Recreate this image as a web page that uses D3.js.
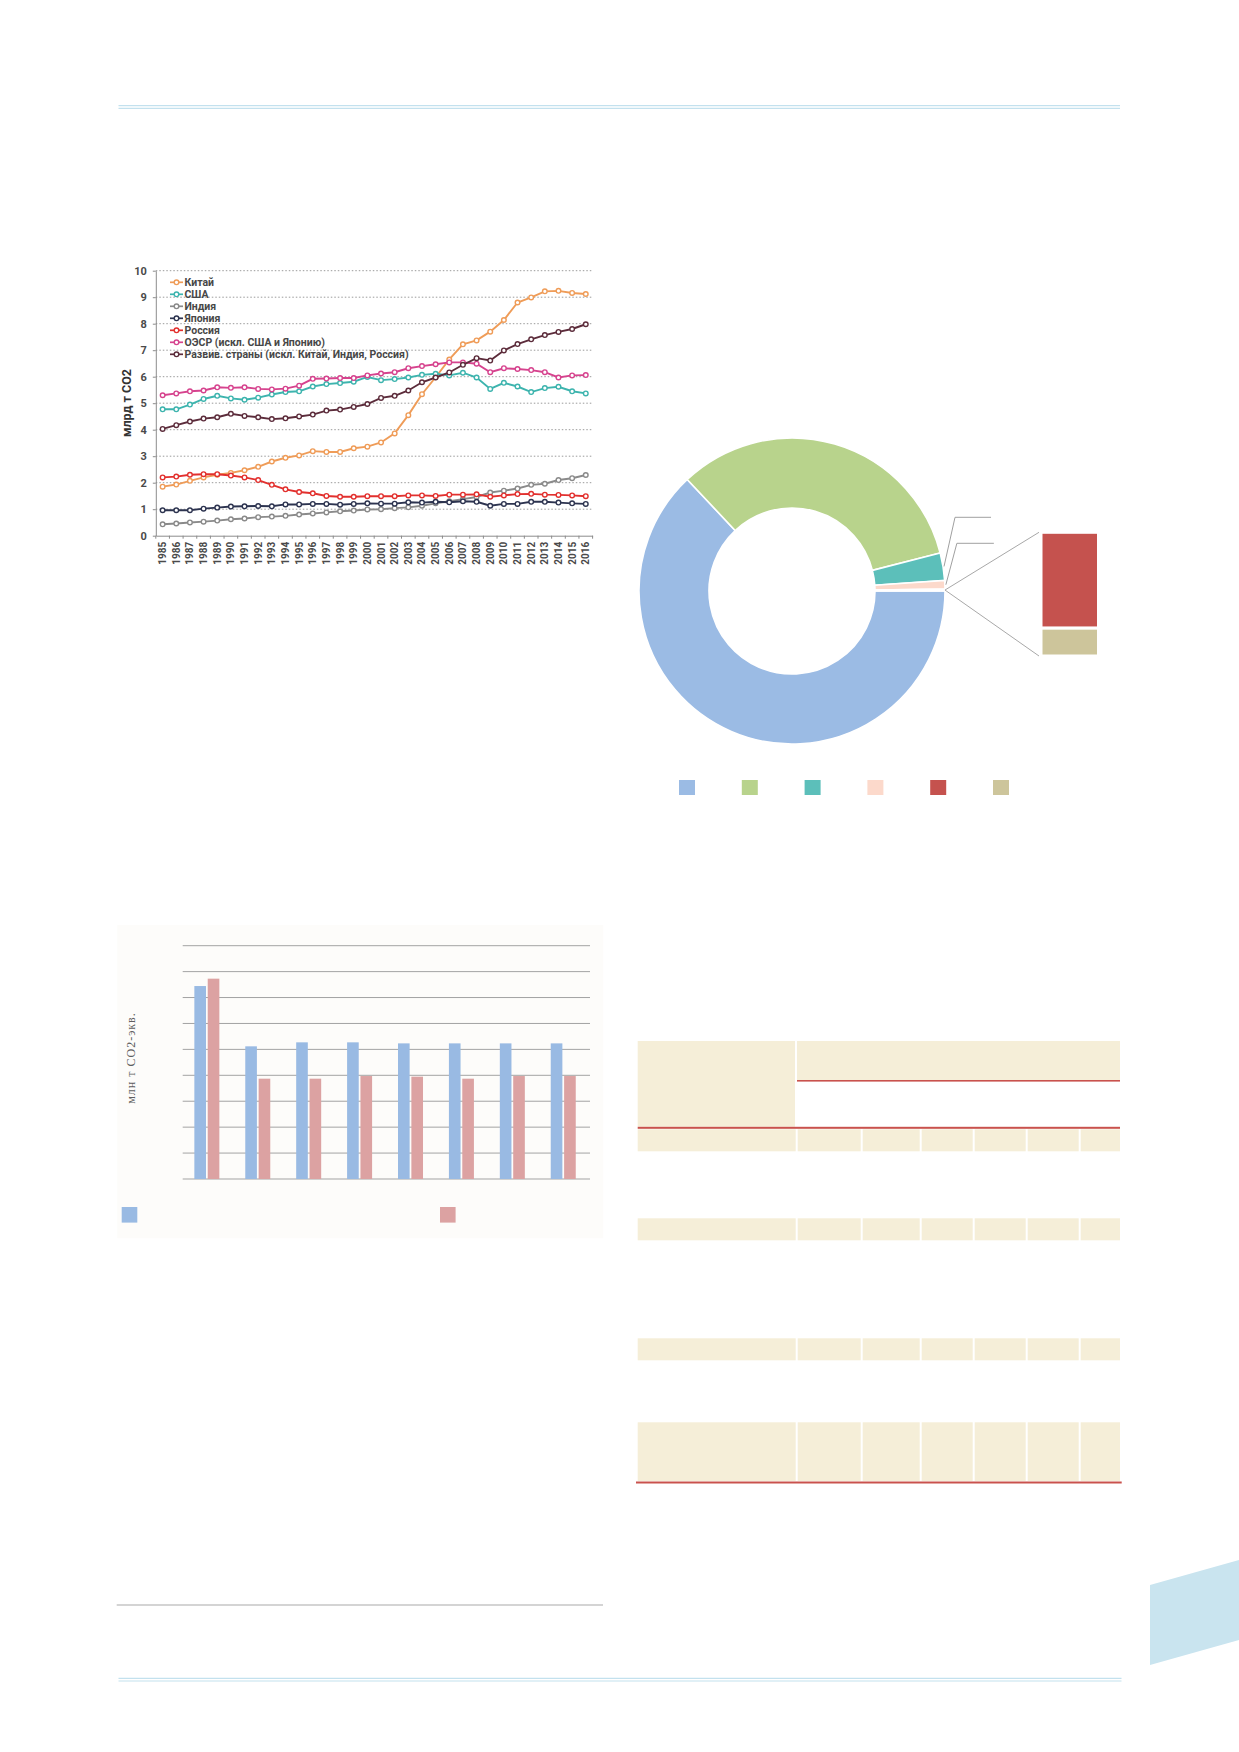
<!DOCTYPE html>
<html>
<head>
<meta charset="utf-8">
<title>Выбросы CO2</title>
<script src="https://d3js.org/d3.v7.min.js"></script>
<style>
  body { margin: 0; background: #fff; }
  svg { display: block; }
</style>
</head>
<body>
<div id="page"></div>
<script>
(function() {

// ---- line chart data (млрд т CO2) ----
const years = d3.range(1985, 2017);
const seriesNames = ["Китай", "США", "Индия", "Япония", "Россия",
  "ОЭСР (искл. США и Японию)", "Развив. страны (искл. Китай, Индия, Россия)"];
const seriesColors = ["#ef9c58", "#3db4ae", "#8a8a8a", "#2d3450", "#e2302e", "#d6438e", "#5c2c3b"];
const china = [1.85, 1.93, 2.07, 2.2, 2.3, 2.37, 2.47, 2.6, 2.8, 2.94, 3.03, 3.19, 3.16, 3.16, 3.3, 3.36,
  3.52, 3.86, 4.55, 5.34, 5.98, 6.65, 7.22, 7.37, 7.7, 8.14, 8.8, 8.99, 9.22, 9.24, 9.16, 9.12];
const usa = [4.77, 4.77, 4.95, 5.16, 5.28, 5.18, 5.13, 5.21, 5.33, 5.42, 5.45, 5.63, 5.72, 5.76, 5.81, 5.99,
  5.87, 5.91, 5.97, 6.07, 6.11, 6.05, 6.15, 5.97, 5.54, 5.77, 5.63, 5.42, 5.57, 5.62, 5.45, 5.37];
const india = [0.43, 0.46, 0.5, 0.53, 0.57, 0.62, 0.65, 0.7, 0.72, 0.75, 0.8, 0.84, 0.88, 0.92, 0.95, 0.99,
  1.0, 1.04, 1.07, 1.13, 1.22, 1.3, 1.38, 1.46, 1.63, 1.7, 1.78, 1.92, 1.96, 2.1, 2.17, 2.29];
const japan = [0.96, 0.96, 0.96, 1.02, 1.06, 1.1, 1.11, 1.12, 1.11, 1.18, 1.18, 1.2, 1.2, 1.17, 1.2, 1.22,
  1.21, 1.21, 1.26, 1.25, 1.28, 1.26, 1.3, 1.28, 1.13, 1.2, 1.2, 1.28, 1.28, 1.25, 1.22, 1.2];
const russia = [2.2, 2.23, 2.3, 2.32, 2.32, 2.27, 2.2, 2.1, 1.92, 1.75, 1.65, 1.6, 1.5, 1.47, 1.47, 1.49,
  1.49, 1.49, 1.52, 1.52, 1.5, 1.55, 1.55, 1.56, 1.47, 1.52, 1.57, 1.58, 1.55, 1.54, 1.52, 1.49];
const oecd = [5.3, 5.37, 5.45, 5.48, 5.6, 5.58, 5.6, 5.54, 5.52, 5.55, 5.66, 5.92, 5.93, 5.95, 5.95, 6.05,
  6.12, 6.17, 6.32, 6.4, 6.47, 6.54, 6.54, 6.49, 6.17, 6.32, 6.29, 6.25, 6.17, 5.97, 6.05, 6.06];
const developing = [4.03, 4.17, 4.31, 4.42, 4.47, 4.6, 4.52, 4.47, 4.4, 4.43, 4.5, 4.57, 4.72, 4.76, 4.86, 4.97,
  5.2, 5.28, 5.48, 5.79, 5.97, 6.16, 6.45, 6.7, 6.61, 6.99, 7.23, 7.41, 7.57, 7.69, 7.8, 7.98];
const seriesValues = [china, usa, india, japan, russia, oecd, developing];
const yTicks = d3.range(0, 11);

// ---- donut data (%), last two are shown in the side bar ----
const donutKeys = ["s1", "s2", "s3", "s4", "s5", "s6"];
const donutValues = [63.0, 33.0, 2.9, 0.9, 0.155, 0.045];
const donutColors = ["#9bbbe4", "#b8d38c", "#5cbfba", "#fcd9cb", "#c5524e", "#cdc59b"];

// ---- bar chart data (млн т CO2-экв.) ----
const barGroups = ["g1", "g2", "g3", "g4", "g5", "g6", "g7", "g8"];
const barSeries = ["a", "b"];
const barColors = ["#99bae3", "#dca2a2"];
const barA = [3722, 2559, 2636, 2636, 2616, 2616, 2616, 2616];
const barB = [3864, 1935, 1935, 1986, 1974, 1935, 1986, 1986];
const barTicks = d3.range(0, 4501, 500);

// ---- table: shaded flag for each body row, relative row heights ----
const tableRowShade = [true, false, true, false, true, false, true];
const tableRowHeight = [22, 67, 22, 98, 22, 62, 57];
const tableColWidth = [159, 65, 59, 53, 53, 53, 41];

let svg = d3.select("#page").append("svg")
  .attr("width", 1239)
  .attr("height", 1752);

// page decoration: double rules top and bottom, corner tab
function doubleRule(y, x0, x1) {
  [y, y + 2.7].forEach((yy) => {
    svg.append("line")
      .attr("x1", x0).attr("x2", x1).attr("y1", yy).attr("y2", yy)
      .attr("stroke", "#c3e1ee").attr("stroke-width", 1.2);
  });
}
doubleRule(105.7, 118.5, 1120);
doubleRule(1678.3, 118.5, 1121.5);
svg.append("path")
  .attr("d", d3.line()([[1150, 1585], [1239, 1560], [1239, 1640], [1150, 1665]]) + "Z")
  .attr("fill", "#c9e4ef");
svg.append("line")
  .attr("x1", 116.7).attr("x2", 603).attr("y1", 1605).attr("y2", 1605)
  .attr("stroke", "#aaaaaa").attr("stroke-width", 1.2);

// ================= line chart =================
let lineFont = "Roboto, 'Open Sans', sans-serif";
let x = d3.scaleBand().domain(years).range([155.8, 592.6]);
let y = d3.scaleLinear().domain([0, 10]).range([535.7, 270.7]);
let cx = (d) => x(d) + x.bandwidth() / 2;
let lc = svg.append("g");

lc.append("g").selectAll("line")
  .data(yTicks.filter((d) => d > 0))
  .enter().append("line")
    .attr("x1", 155.8).attr("x2", 592.6)
    .attr("y1", (d) => y(d)).attr("y2", (d) => y(d))
    .attr("stroke", "#9a9a9a").attr("stroke-width", 1)
    .attr("stroke-dasharray", "1.5,2");

let yAxis = lc.append("g")
  .attr("transform", "translate(155.8,0)")
  .call(d3.axisLeft(y).tickValues(yTicks).tickSize(3).tickSizeOuter(0).tickPadding(6));
yAxis.select(".domain").attr("stroke", "#8c8c8c");
yAxis.selectAll(".tick line").attr("stroke", "#8c8c8c");
yAxis.selectAll("text")
  .attr("font-family", lineFont).attr("font-weight", "bold")
  .attr("font-size", 11).attr("fill", "#4a4a4a");

let xAxis = lc.append("g")
  .attr("transform", "translate(0,535.7)")
  .call(d3.axisBottom(x).tickSize(0).tickSizeOuter(0).tickPadding(0));
xAxis.select(".domain").attr("stroke", "#8c8c8c");
xAxis.selectAll("text")
  .attr("font-family", lineFont).attr("font-weight", "bold")
  .attr("font-size", 10).attr("fill", "#4a4a4a")
  .attr("text-anchor", "end")
  .attr("transform", "translate(0,6) rotate(-90)")
  .attr("dx", 0).attr("dy", "0.35em")
  .attr("y", 0);
// tick marks sit on the category boundaries
lc.append("g").selectAll("line")
  .data(years.concat([2017]))
  .enter().append("line")
    .attr("x1", (d, i) => 155.8 + i * x.step())
    .attr("x2", (d, i) => 155.8 + i * x.step())
    .attr("y1", 535.7).attr("y2", 538.7)
    .attr("stroke", "#8c8c8c");

lc.append("text")
  .attr("transform", "translate(131,403) rotate(-90)")
  .attr("text-anchor", "middle")
  .attr("font-family", lineFont).attr("font-weight", "bold")
  .attr("font-size", 12.5).attr("fill", "#333")
  .text("млрд т СО2");

let line = d3.line()
  .x((d, i) => cx(years[i]))
  .y((d) => y(d));

seriesValues.forEach((vals, s) => {
  let g = lc.append("g");
  g.append("path")
    .attr("d", line(vals))
    .attr("fill", "none")
    .attr("stroke", seriesColors[s])
    .attr("stroke-width", 1.9);
  g.selectAll("circle")
    .data(vals)
    .enter().append("circle")
      .attr("cx", (d, i) => cx(years[i]))
      .attr("cy", (d) => y(d))
      .attr("r", 2.3)
      .attr("fill", "#fff")
      .attr("stroke", seriesColors[s])
      .attr("stroke-width", 1.4);
});

// legend
let legend = lc.append("g").selectAll("g")
  .data(seriesNames)
  .enter().append("g")
    .attr("transform", (d, i) => "translate(170," + (282.3 + i * 12) + ")");
legend.append("line")
  .attr("x1", 0).attr("x2", 13).attr("y1", 0).attr("y2", 0)
  .attr("stroke", (d, i) => seriesColors[i]).attr("stroke-width", 1.7);
legend.append("circle")
  .attr("cx", 6.5).attr("cy", 0).attr("r", 2.3)
  .attr("fill", "#fff")
  .attr("stroke", (d, i) => seriesColors[i]).attr("stroke-width", 1.4);
legend.append("text")
  .attr("x", 14.5).attr("dy", "0.35em")
  .attr("font-family", lineFont).attr("font-weight", "bold")
  .attr("font-size", 10.5).attr("fill", "#474747")
  .text((d) => d);

// ================= donut =================
let dc = svg.append("g").attr("transform", "translate(792,591)");
let otherValue = donutValues[4] + donutValues[5];
let pieData = donutValues.slice(0, 4).concat([otherValue]);
let pie = d3.pie().sort(null)
  .startAngle(Math.PI / 2).endAngle(Math.PI / 2 + 2 * Math.PI);
let arcs = pie(pieData);
let arc = d3.arc().innerRadius(83).outerRadius(153);
dc.selectAll("path")
  .data(arcs)
  .enter().append("path")
    .attr("d", arc)
    .attr("fill", (d, i) => i < 4 ? donutColors[i] : "#ffffff")
    .attr("stroke", "#fff").attr("stroke-width", 1.6);

// bar of pie for the two smallest shares
let stackY = d3.scaleLinear().domain([0, otherValue]).range([532.3, 656]);
let stackParts = [0, donutValues[4], otherValue];
svg.append("g").selectAll("rect")
  .data([4, 5])
  .enter().append("rect")
    .attr("x", 1041).attr("width", 57.5)
    .attr("y", (d, i) => stackY(stackParts[i]))
    .attr("height", (d, i) => stackY(stackParts[i + 1]) - stackY(stackParts[i]))
    .attr("fill", (d) => donutColors[d])
    .attr("stroke", "#fff").attr("stroke-width", 3);

let otherArc = arcs[4];
let joinAngle = (otherArc.startAngle + otherArc.endAngle) / 2;
let join = [792 + 153 * Math.sin(joinAngle), 591 - 153 * Math.cos(joinAngle)];
[stackY(0), stackY(otherValue)].forEach((yy) => {
  svg.append("path")
    .attr("d", d3.line()([[1039, yy], join]))
    .attr("fill", "none").attr("stroke", "#a8a8a8").attr("stroke-width", 1);
});

// data label leader lines for the small slices
[[2, 517.3, 36], [3, 543.3, 37]].forEach((p) => {
  let a = arcs[p[0]];
  let mid = (a.startAngle + a.endAngle) / 2;
  let sx = 792 + 154 * Math.sin(mid);
  let sy = 591 - 154 * Math.cos(mid);
  let ex = sx + 11;
  svg.append("path")
    .attr("d", d3.line()([[sx, sy], [ex, p[1]], [ex + p[2], p[1]]]))
    .attr("fill", "none").attr("stroke", "#a0a0a0").attr("stroke-width", 1);
});

// donut legend (labels not printed)
let dLegX = d3.scalePoint().domain(donutKeys).range([687, 1001]);
svg.append("g").selectAll("rect")
  .data(donutKeys)
  .enter().append("rect")
    .attr("x", (d) => dLegX(d) - 8).attr("y", 780)
    .attr("width", 16).attr("height", 15)
    .attr("fill", (d, i) => donutColors[i]);

// ================= bar chart =================
svg.append("rect")
  .attr("x", 117.3).attr("y", 925).attr("width", 486).attr("height", 313.3)
  .attr("fill", "#fdfcfa");

let bx = d3.scaleBand().domain(barGroups).range([182.7, 590]);
let by = d3.scaleLinear().domain([0, 4500]).range([1179, 945.7]);
let bInner = d3.scaleBand().domain(barSeries).range([-12.5, 12.5]).paddingInner(0.13);
let bc = svg.append("g");

bc.append("g").selectAll("line")
  .data(barTicks)
  .enter().append("line")
    .attr("x1", 182.7).attr("x2", 590)
    .attr("y1", (d) => by(d)).attr("y2", (d) => by(d))
    .attr("stroke", "#a3a3a3").attr("stroke-width", 1);

let barData = [];
barGroups.forEach((g, i) => {
  barData.push({ group: g, series: "a", value: barA[i] });
  barData.push({ group: g, series: "b", value: barB[i] });
});
bc.append("g").selectAll("rect")
  .data(barData)
  .enter().append("rect")
    .attr("x", (d) => bx(d.group) + bx.bandwidth() / 2 - 1.3 + bInner(d.series))
    .attr("width", bInner.bandwidth())
    .attr("y", (d) => by(d.value))
    .attr("height", (d) => by(0) - by(d.value))
    .attr("fill", (d) => barColors[barSeries.indexOf(d.series)]);

bc.append("text")
  .attr("transform", "translate(134.5,1058) rotate(-90)")
  .attr("text-anchor", "middle")
  .attr("font-family", "'Liberation Serif', 'DejaVu Serif', serif")
  .attr("font-size", 12).attr("letter-spacing", 1)
  .attr("fill", "#5e5e5e")
  .text("млн т СО2-экв.");

// bar legend squares (labels not printed)
let bLegX = d3.scaleOrdinal().domain(barSeries).range([121.7, 440]);
bc.append("g").selectAll("rect")
  .data(barSeries)
  .enter().append("rect")
    .attr("x", (d) => bLegX(d)).attr("y", 1207)
    .attr("width", 15.6).attr("height", 15.6)
    .attr("fill", (d, i) => barColors[i]);

// ================= table =================
let tbl = svg.append("g");
let beige = "#f5eed8";
let red = "#c9524d";
let colX = [637.7];
tableColWidth.forEach((w, i) => colX.push(colX[i] + w));
let right = 1120;
colX[colX.length - 1] = right;

// header block
tbl.append("rect").attr("x", 637.7).attr("y", 1041).attr("width", 157.3).attr("height", 85.7).attr("fill", beige);
tbl.append("rect").attr("x", 797).attr("y", 1041).attr("width", right - 797).attr("height", 39).attr("fill", beige);
tbl.append("rect").attr("x", 797).attr("y", 1080).attr("width", right - 797).attr("height", 1.6).attr("fill", red);
tbl.append("rect").attr("x", 637.7).attr("y", 1126.8).attr("width", right - 637.7).attr("height", 2).attr("fill", red);

let rowY = [1129.3];
tableRowHeight.forEach((h, i) => rowY.push(rowY[i] + h));
rowY[rowY.length - 1] = 1481;
tableRowShade.forEach((shade, r) => {
  if (!shade) return;
  tbl.append("g").selectAll("rect")
    .data(tableColWidth)
    .enter().append("rect")
      .attr("x", (d, c) => colX[c] + (c > 0 ? 1 : 0))
      .attr("width", (d, c) => colX[c + 1] - colX[c] - (c > 0 ? 1 : 0) - (c < tableColWidth.length - 1 ? 1 : 0))
      .attr("y", rowY[r])
      .attr("height", rowY[r + 1] - rowY[r])
      .attr("fill", beige);
});
tbl.append("rect").attr("x", 636).attr("y", 1481.5).attr("width", 485.7).attr("height", 2).attr("fill", red);

})();
</script>
</body>
</html>
